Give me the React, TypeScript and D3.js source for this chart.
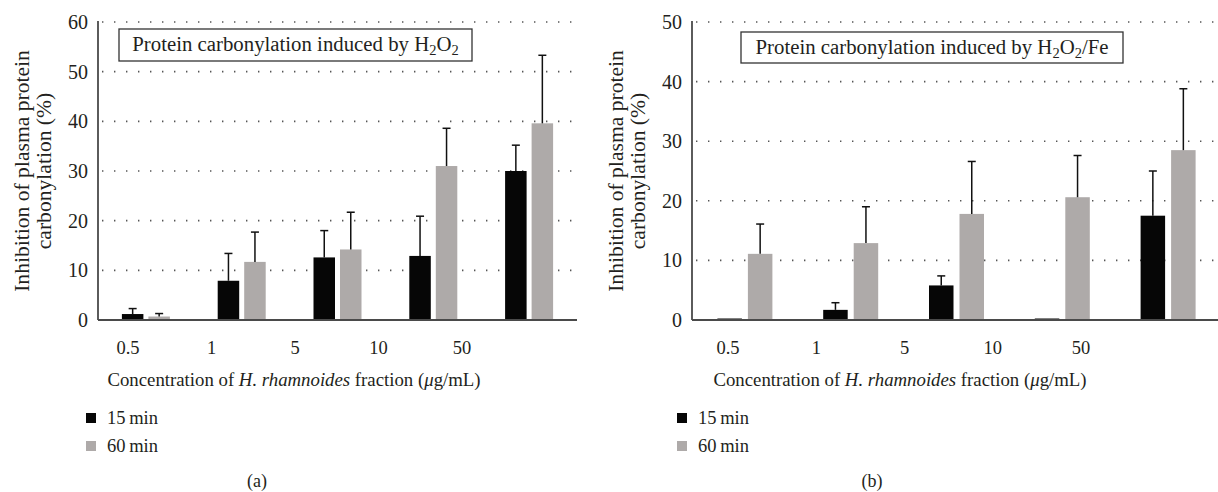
import React from "react";
import * as d3 from "d3";

const categories = ["0.5", "1", "5", "10", "50"];
const seriesNames = ["15 min", "60 min"];
const colors = ["#060606", "#aeaaa9"];

// Panel (a): H2O2
const a15 = [1.2, 7.9, 12.6, 12.9, 30.0];
const a15err = [1.1, 5.5, 5.4, 8.0, 5.2];
const a60 = [0.7, 11.7, 14.2, 31.0, 39.6];
const a60err = [0.6, 6.0, 7.5, 7.6, 13.7];
const aTicks = [0, 10, 20, 30, 40, 50, 60];

// Panel (b): H2O2/Fe
const b15 = [0, 1.7, 5.8, 0, 17.5];
const b15err = [0, 1.2, 1.6, 0, 7.5];
const b60 = [11.1, 12.9, 17.8, 20.6, 28.5];
const b60err = [5.0, 6.1, 8.8, 7.0, 10.3];
const bTicks = [0, 10, 20, 30, 40, 50];

const FONT = "'Liberation Serif', 'Times New Roman', serif";

type PanelProps = {
  x0: number;
  x1: number;
  yTop: number;
  yBottom: number;
  yMax: number;
  ticks: number[];
  v15: number[];
  e15: number[];
  v60: number[];
  e60: number[];
  labelRange: [number, number];
  barW: number;
  gap: number;
  titleBox: { x: number; y: number; w: number; h: number };
  titleSuffix: string;
  yTitleX: number;
  xTitleX: number;
  legendX: number;
  caption: string;
  captionX: number;
};

function Panel(p: PanelProps) {
  const x = d3.scaleBand<string>().domain(categories).range([p.x0, p.x1]).padding(0);
  const xl = d3.scalePoint<string>().domain(categories).range(p.labelRange);
  const y = d3.scaleLinear().domain([0, p.yMax]).range([p.yBottom, p.yTop]);
  const series = [
    { v: p.v15, e: p.e15, c: colors[0] },
    { v: p.v60, e: p.e60, c: colors[1] },
  ];
  const cap = 4;
  return (
    <g>
      {p.ticks
        .filter((t) => t > 0)
        .map((t) => (
          <line
            key={"g" + t}
            x1={p.x0 + 4}
            x2={p.x1}
            y1={y(t)}
            y2={y(t)}
            stroke="#555"
            strokeWidth={1.6}
            strokeDasharray="1.4 10.6"
          />
        ))}
      {p.ticks.map((t) => (
        <text
          key={"t" + t}
          x={p.x0 - 10}
          y={y(t)}
          dy="0.35em"
          textAnchor="end"
          fontSize={20}
          fontFamily={FONT}
          fill="#231f20"
        >
          {t}
        </text>
      ))}
      {categories.map((c, i) => {
        const cx = (x(c) as number) + x.bandwidth() / 2;
        return series.map((s, si) => {
          const bx = si === 0 ? cx - p.gap / 2 - p.barW : cx + p.gap / 2;
          const v = s.v[i];
          const top = y(v);
          const h = Math.max(y(0) - top, 1.5);
          const mid = bx + p.barW / 2;
          const et = y(v + s.e[i]);
          return (
            <g key={c + si}>
              <rect x={bx} y={y(0) - h} width={p.barW} height={h} fill={s.c} />
              {s.e[i] > 0 && (
                <g stroke="#111" strokeWidth={1.5}>
                  <line x1={mid} x2={mid} y1={top} y2={et} />
                  <line x1={mid - cap} x2={mid + cap} y1={et} y2={et} />
                </g>
              )}
            </g>
          );
        });
      })}
      <line x1={p.x0} x2={p.x0} y1={p.yTop - 1} y2={p.yBottom} stroke="#4a4a4a" strokeWidth={1.8} />
      <line x1={p.x0} x2={p.x1} y1={p.yBottom} y2={p.yBottom} stroke="#4a4a4a" strokeWidth={1.8} />
      {categories.map((c) => (
        <text
          key={"x" + c}
          x={xl(c)}
          y={354}
          textAnchor="middle"
          fontSize={18.5}
          fontFamily={FONT}
          fill="#231f20"
        >
          {c}
        </text>
      ))}
      <text x={p.xTitleX} y={386} textAnchor="middle" fontSize={18.8} fontFamily={FONT} fill="#231f20">
        Concentration of <tspan fontStyle="italic">H. rhamnoides</tspan> fraction (<tspan fontStyle="italic">μ</tspan>g/mL)
      </text>
      <g transform={`translate(${p.yTitleX},${(p.yTop + p.yBottom) / 2}) rotate(-90)`}>
        <text x={0} y={0} dy="0.35em" textAnchor="middle" fontSize={21.6} fontFamily={FONT} fill="#231f20">
          Inhibition of plasma protein
        </text>
        <text x={0} y={22} dy="0.35em" textAnchor="middle" fontSize={21.6} fontFamily={FONT} fill="#231f20">
          carbonylation (%)
        </text>
      </g>
      <rect
        x={p.titleBox.x}
        y={p.titleBox.y}
        width={p.titleBox.w}
        height={p.titleBox.h}
        fill="#fff"
        stroke="#333"
        strokeWidth={1.3}
      />
      <text
        x={p.titleBox.x + p.titleBox.w / 2}
        y={p.titleBox.y + p.titleBox.h / 2 + 6}
        textAnchor="middle"
        fontSize={20.8}
        fontFamily={FONT}
        fill="#231f20"
      >
        Protein carbonylation induced by H
        <tspan fontSize={14.5} dy={4}>2</tspan>
        <tspan dy={-4}>O</tspan>
        <tspan fontSize={14.5} dy={4}>2</tspan>
        <tspan dy={-4}>{p.titleSuffix}</tspan>
      </text>
      {seriesNames.map((n, i) => (
        <g key={n}>
          <rect x={p.legendX} y={413 + i * 28} width={10} height={10} fill={colors[i]} />
          <text x={p.legendX + 21} y={418 + i * 28} dy="0.35em" fontSize={18.5} fontFamily={FONT} fill="#231f20">
            {n.replace(" ", "\u2009")}
          </text>
        </g>
      ))}
      <text x={p.captionX} y={481} dy="0.35em" textAnchor="middle" fontSize={18} fontFamily={FONT} fill="#231f20">
        {p.caption}
      </text>
    </g>
  );
}

export default function App() {
  return (
    <svg
      width={1218}
      height={492}
      style={{ position: "absolute", left: 0, top: 0, background: "#fff" }}
    >
      <rect width={1218} height={492} fill="#fff" />
      <Panel
        x0={98}
        x1={577}
        yTop={22}
        yBottom={320}
        yMax={60}
        ticks={aTicks}
        v15={a15}
        e15={a15err}
        v60={a60}
        e60={a60err}
        labelRange={[128, 462]}
        barW={21.5}
        gap={5}
        titleBox={{ x: 119, y: 29, w: 353, h: 32 }}
        titleSuffix=""
        yTitleX={21}
        xTitleX={294}
        legendX={86}
        caption="(a)"
        captionX={257}
      />
      <Panel
        x0={692}
        x1={1221}
        yTop={22}
        yBottom={320}
        yMax={50}
        ticks={bTicks}
        v15={b15}
        e15={b15err}
        v60={b60}
        e60={b60err}
        labelRange={[728, 1081]}
        barW={24.5}
        gap={6}
        titleBox={{ x: 741, y: 32, w: 382, h: 31 }}
        titleSuffix="/Fe"
        yTitleX={615}
        xTitleX={900}
        legendX={677}
        caption="(b)"
        captionX={872}
      />
    </svg>
  );
}
